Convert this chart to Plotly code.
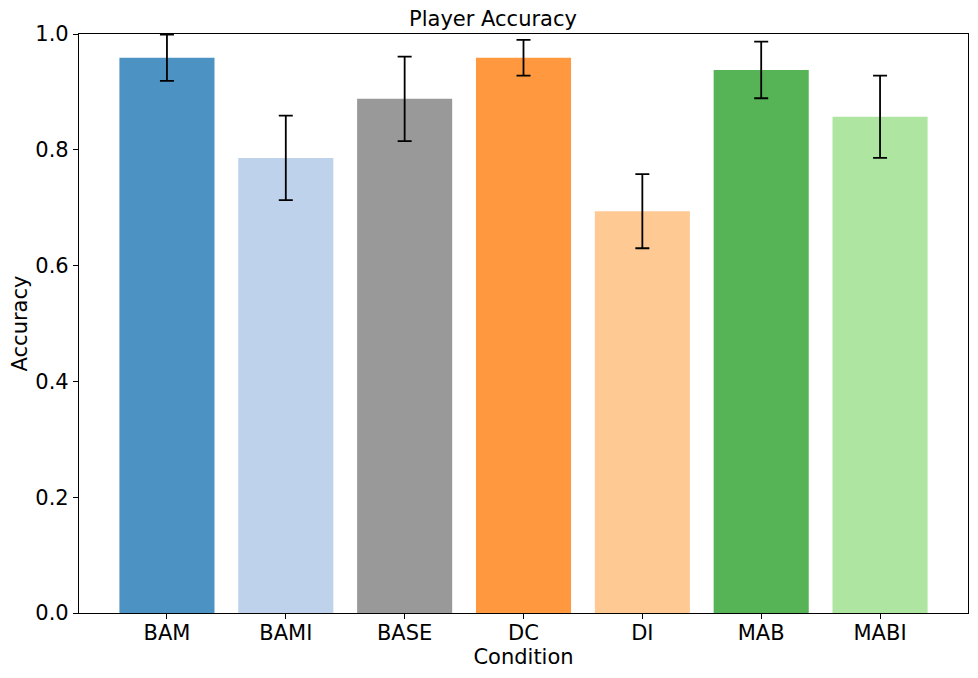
import plotly.graph_objects as go

categories = ["BAM", "BAMI", "BASE", "DC", "DI", "MAB", "MABI"]
accuracy = [0.959, 0.786, 0.888, 0.959, 0.694, 0.938, 0.857]
errors = [0.040, 0.073, 0.073, 0.031, 0.064, 0.049, 0.071]
colors = ["#4c92c3", "#bed2ec", "#999999", "#ff983e", "#ffc993", "#56b356", "#ade5a1"]
y_ticks = [0.0, 0.2, 0.4, 0.6, 0.8, 1.0]

font = "DejaVu Sans"
W, H = 970, 670

fig = go.Figure(go.Bar(
    x=categories,
    y=accuracy,
    width=0.8,
    marker=dict(color=colors, line=dict(width=0)),
    error_y=dict(type="data", array=errors, visible=True, color="black",
                 thickness=1.8, width=7),
))

fig.update_layout(
    width=W, height=H,
    margin=dict(l=71, r=10, t=26, b=65),
    paper_bgcolor="white", plot_bgcolor="white",
    font=dict(family=font, size=21, color="black"),
    showlegend=False,
    title=dict(text="Player Accuracy", x=0.5, xanchor="center",
               y=1 - 11 / H, yanchor="middle",
               font=dict(family=font, size=21, color="black")),
)

fig.update_xaxes(
    range=[-0.74, 6.74],
    automargin=False,
    showline=True, linecolor="black", linewidth=1.2, mirror=True,
    ticks="outside", ticklen=5, tickwidth=1.2, tickcolor="black",
    ticklabelstandoff=-4,
    showgrid=False, zeroline=False,
    tickfont=dict(family=font, size=21, color="black"),
    title=dict(text="Condition", standoff=2, font=dict(family=font, size=21, color="black")),
)
fig.update_yaxes(
    range=[0, 1.0],
    automargin=False,
    tickvals=y_ticks,
    ticktext=[f"{v:.1f}" for v in y_ticks],
    showline=True, linecolor="black", linewidth=1.2, mirror=True,
    ticks="outside", ticklen=5, tickwidth=1.2, tickcolor="black",
    showgrid=False, zeroline=False,
    tickfont=dict(family=font, size=21, color="black"),
    title=dict(text="Accuracy", standoff=6, font=dict(family=font, size=21, color="black")),
)

fig.write_html("out.html")
